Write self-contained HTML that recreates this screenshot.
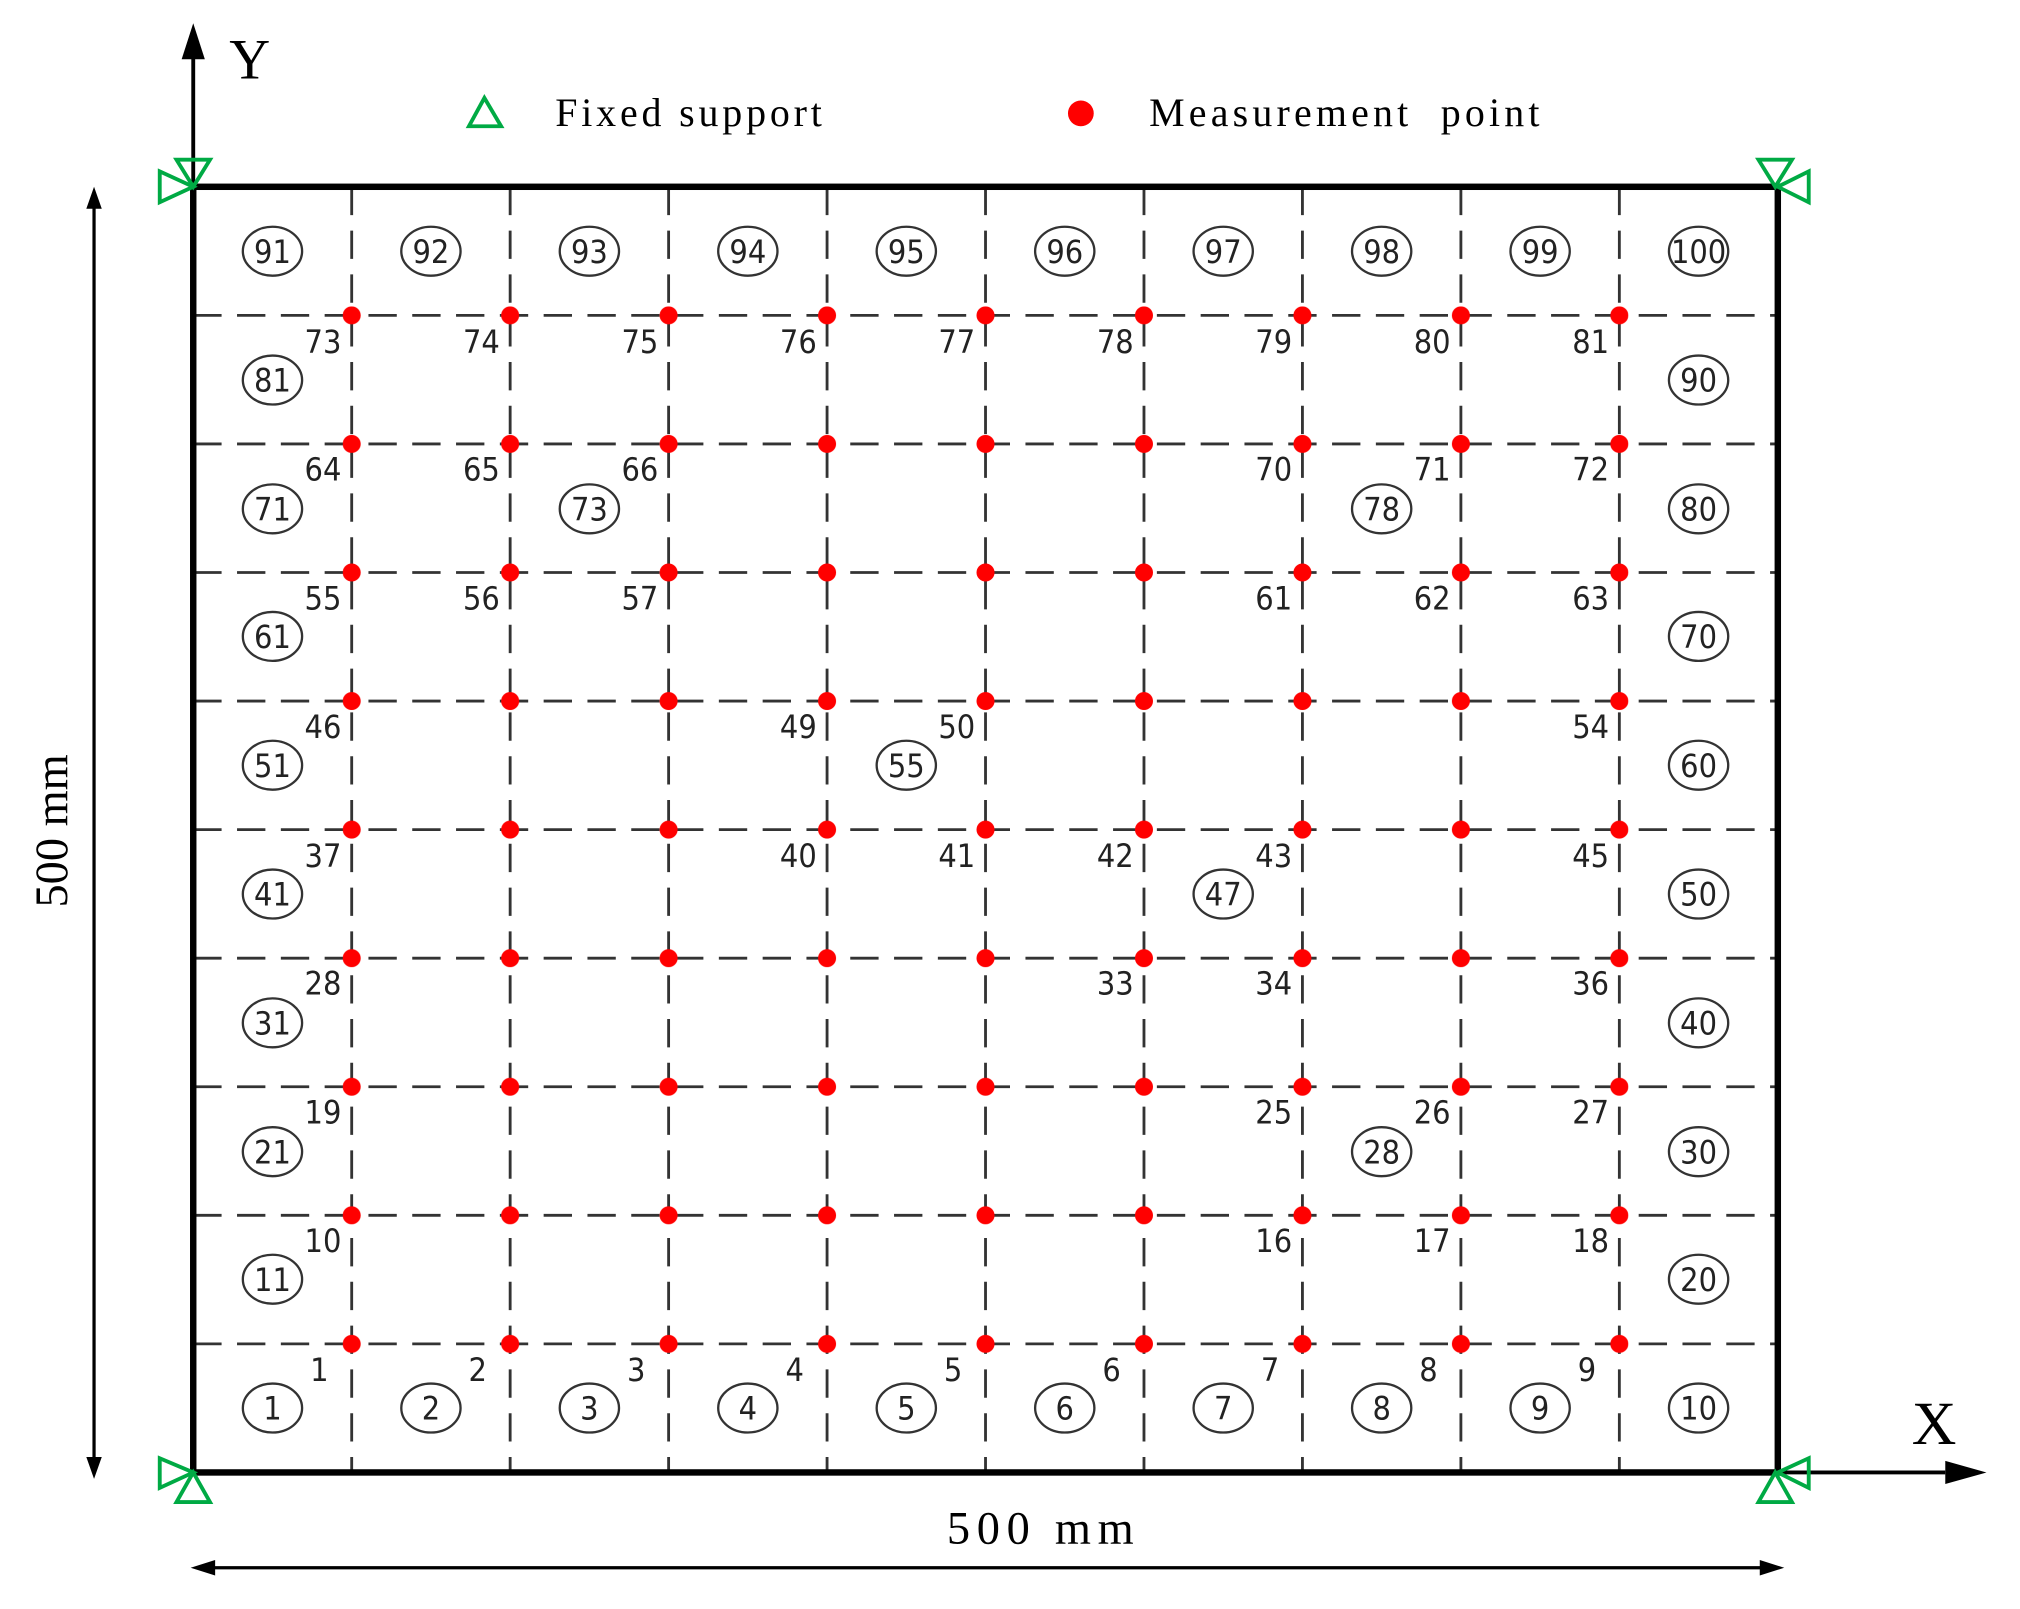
<!DOCTYPE html>
<html><head><meta charset="utf-8"><style>
html,body{margin:0;padding:0;background:#fff;}
svg{display:block;}
.n{font-family:"DejaVu Sans Condensed","Liberation Sans",sans-serif;font-size:25px;fill:#222;}
.c{font-family:"DejaVu Sans Condensed","Liberation Sans",sans-serif;font-size:25px;fill:#222;text-anchor:middle;}
.s{font-family:"Liberation Serif",serif;fill:#000;}
</style></head><body>
<svg width="2020" height="1609" viewBox="0 0 1568 1249" preserveAspectRatio="none" xmlns="http://www.w3.org/2000/svg">
<defs>
<pattern id="dots" patternUnits="userSpaceOnUse" x="273" y="244.8" width="123" height="99.8">
<circle cx="0" cy="0" r="7" fill="#f00"/><circle cx="123" cy="0" r="7" fill="#f00"/>
<circle cx="0" cy="99.8" r="7" fill="#f00"/><circle cx="123" cy="99.8" r="7" fill="#f00"/>
</pattern>
</defs>
<rect width="1568" height="1249" fill="#fff"/>
<g stroke="#333" stroke-width="2.2" stroke-dasharray="22,12" fill="none">
<line x1="273" y1="145" x2="273" y2="1143"/><line x1="396" y1="145" x2="396" y2="1143"/>
<line x1="519" y1="145" x2="519" y2="1143"/><line x1="642" y1="145" x2="642" y2="1143"/>
<line x1="765" y1="145" x2="765" y2="1143"/><line x1="888" y1="145" x2="888" y2="1143"/>
<line x1="1011" y1="145" x2="1011" y2="1143"/><line x1="1134" y1="145" x2="1134" y2="1143"/>
<line x1="1257" y1="145" x2="1257" y2="1143"/>
<line x1="150" y1="244.8" x2="1380" y2="244.8"/><line x1="150" y1="344.6" x2="1380" y2="344.6"/>
<line x1="150" y1="444.4" x2="1380" y2="444.4"/><line x1="150" y1="544.2" x2="1380" y2="544.2"/>
<line x1="150" y1="644" x2="1380" y2="644"/><line x1="150" y1="743.8" x2="1380" y2="743.8"/>
<line x1="150" y1="843.6" x2="1380" y2="843.6"/><line x1="150" y1="943.4" x2="1380" y2="943.4"/>
<line x1="150" y1="1043.2" x2="1380" y2="1043.2"/>
</g>
<rect x="266" y="237.8" width="998" height="812.4" fill="url(#dots)"/>
<rect x="150" y="145" width="1230" height="998" fill="none" stroke="#000" stroke-width="5"/>
<g stroke="#000" stroke-width="3" fill="#000">
<line x1="150" y1="145" x2="150" y2="40"/>
<path d="M150 18 L141 46 L159 46 Z" stroke="none"/>
<line x1="1380" y1="1143" x2="1510" y2="1143"/>
<path d="M1542 1143 L1510 1134 L1510 1152 Z" stroke="none"/>
<line x1="73" y1="160" x2="73" y2="1133" stroke-width="2.5"/>
<path d="M73 145 L67 162 L79 162 Z M73 1148 L67 1131 L79 1131 Z" stroke="none"/>
<line x1="165" y1="1217" x2="1368" y2="1217" stroke-width="2.5"/>
<path d="M148 1217 L167 1211 L167 1223 Z M1385 1217 L1366 1211 L1366 1223 Z" stroke="none"/>
</g>
<text class="s" x="178" y="61" font-size="44">Y</text>
<text class="s" x="1484" y="1121" font-size="48">X</text>
<text class="s" x="735" y="1198" font-size="36" textLength="145" lengthAdjust="spacing">500 mm</text>
<text class="s" x="0" y="0" font-size="36" text-anchor="middle" transform="translate(52,645) rotate(-90)">500 mm</text>
<path d="M376 76 L364 98 L389 98 Z" fill="none" stroke="#0a4" stroke-width="3"/>
<text class="s" x="431" y="98" font-size="31" textLength="207" lengthAdjust="spacing">Fixed support</text>
<circle cx="839" cy="88" r="10" fill="#f00"/>
<text class="s" x="892" y="98" font-size="31" xml:space="preserve" textLength="303" lengthAdjust="spacing">Measurement  point</text>
<g fill="none" stroke="#0a4" stroke-width="3">
<path d="M150 145 L137 124 L163 124 Z"/><path d="M150 145 L124 133 L124 157 Z"/>
<path d="M1378 145 L1365 124 L1391 124 Z"/><path d="M1380 145 L1404 133 L1404 157 Z"/>
<path d="M150 1143 L137 1166 L163 1166 Z"/><path d="M150 1143 L124 1132 L124 1155 Z"/>
<path d="M1378 1143 L1365 1166 L1391 1166 Z"/><path d="M1380 1143 L1404 1132 L1404 1155 Z"/>
</g>
<g fill="none" stroke="#333" stroke-width="1.8">
<ellipse cx="211.5" cy="195" rx="23" ry="19"/><ellipse cx="334.5" cy="195" rx="23" ry="19"/><ellipse cx="457.5" cy="195" rx="23" ry="19"/><ellipse cx="580.5" cy="195" rx="23" ry="19"/><ellipse cx="703.5" cy="195" rx="23" ry="19"/><ellipse cx="826.5" cy="195" rx="23" ry="19"/><ellipse cx="949.5" cy="195" rx="23" ry="19"/><ellipse cx="1072.5" cy="195" rx="23" ry="19"/><ellipse cx="1195.5" cy="195" rx="23" ry="19"/><ellipse cx="1318.5" cy="195" rx="23" ry="19"/>
<ellipse cx="211.5" cy="295" rx="23" ry="19"/><ellipse cx="1318.5" cy="295" rx="23" ry="19"/>
<ellipse cx="211.5" cy="395" rx="23" ry="19"/><ellipse cx="457.5" cy="395" rx="23" ry="19"/><ellipse cx="1072.5" cy="395" rx="23" ry="19"/><ellipse cx="1318.5" cy="395" rx="23" ry="19"/>
<ellipse cx="211.5" cy="494" rx="23" ry="19"/><ellipse cx="1318.5" cy="494" rx="23" ry="19"/>
<ellipse cx="211.5" cy="594" rx="23" ry="19"/><ellipse cx="703.5" cy="594" rx="23" ry="19"/><ellipse cx="1318.5" cy="594" rx="23" ry="19"/>
<ellipse cx="211.5" cy="694" rx="23" ry="19"/><ellipse cx="949.5" cy="694" rx="23" ry="19"/><ellipse cx="1318.5" cy="694" rx="23" ry="19"/>
<ellipse cx="211.5" cy="794" rx="23" ry="19"/><ellipse cx="1318.5" cy="794" rx="23" ry="19"/>
<ellipse cx="211.5" cy="894" rx="23" ry="19"/><ellipse cx="1072.5" cy="894" rx="23" ry="19"/><ellipse cx="1318.5" cy="894" rx="23" ry="19"/>
<ellipse cx="211.5" cy="993" rx="23" ry="19"/><ellipse cx="1318.5" cy="993" rx="23" ry="19"/>
<ellipse cx="211.5" cy="1093" rx="23" ry="19"/><ellipse cx="334.5" cy="1093" rx="23" ry="19"/><ellipse cx="457.5" cy="1093" rx="23" ry="19"/><ellipse cx="580.5" cy="1093" rx="23" ry="19"/><ellipse cx="703.5" cy="1093" rx="23" ry="19"/><ellipse cx="826.5" cy="1093" rx="23" ry="19"/><ellipse cx="949.5" cy="1093" rx="23" ry="19"/><ellipse cx="1072.5" cy="1093" rx="23" ry="19"/><ellipse cx="1195.5" cy="1093" rx="23" ry="19"/><ellipse cx="1318.5" cy="1093" rx="23" ry="19"/>
</g>
<g class="c">
<text class="c" x="211.5" y="204">91</text><text class="c" x="334.5" y="204">92</text><text class="c" x="457.5" y="204">93</text><text class="c" x="580.5" y="204">94</text><text class="c" x="703.5" y="204">95</text><text class="c" x="826.5" y="204">96</text><text class="c" x="949.5" y="204">97</text><text class="c" x="1072.5" y="204">98</text><text class="c" x="1195.5" y="204">99</text><text class="c" x="1318.5" y="204">100</text>
<text class="c" x="211.5" y="304">81</text><text class="c" x="1318.5" y="304">90</text>
<text class="c" x="211.5" y="404">71</text><text class="c" x="457.5" y="404">73</text><text class="c" x="1072.5" y="404">78</text><text class="c" x="1318.5" y="404">80</text>
<text class="c" x="211.5" y="503">61</text><text class="c" x="1318.5" y="503">70</text>
<text class="c" x="211.5" y="603">51</text><text class="c" x="703.5" y="603">55</text><text class="c" x="1318.5" y="603">60</text>
<text class="c" x="211.5" y="703">41</text><text class="c" x="949.5" y="703">47</text><text class="c" x="1318.5" y="703">50</text>
<text class="c" x="211.5" y="803">31</text><text class="c" x="1318.5" y="803">40</text>
<text class="c" x="211.5" y="903">21</text><text class="c" x="1072.5" y="903">28</text><text class="c" x="1318.5" y="903">30</text>
<text class="c" x="211.5" y="1002">11</text><text class="c" x="1318.5" y="1002">20</text>
<text class="c" x="211.5" y="1102">1</text><text class="c" x="334.5" y="1102">2</text><text class="c" x="457.5" y="1102">3</text><text class="c" x="580.5" y="1102">4</text><text class="c" x="703.5" y="1102">5</text><text class="c" x="826.5" y="1102">6</text><text class="c" x="949.5" y="1102">7</text><text class="c" x="1072.5" y="1102">8</text><text class="c" x="1195.5" y="1102">9</text><text class="c" x="1318.5" y="1102">10</text>
</g>
<g class="n" text-anchor="end">
<text x="265" y="274">73</text><text x="388" y="274">74</text><text x="511" y="274">75</text><text x="634" y="274">76</text><text x="757" y="274">77</text><text x="880" y="274">78</text><text x="1003" y="274">79</text><text x="1126" y="274">80</text><text x="1249" y="274">81</text>
<text x="265" y="373">64</text><text x="388" y="373">65</text><text x="511" y="373">66</text><text x="1003" y="373">70</text><text x="1126" y="373">71</text><text x="1249" y="373">72</text>
<text x="265" y="473">55</text><text x="388" y="473">56</text><text x="511" y="473">57</text><text x="1003" y="473">61</text><text x="1126" y="473">62</text><text x="1249" y="473">63</text>
<text x="265" y="573">46</text><text x="634" y="573">49</text><text x="757" y="573">50</text><text x="1249" y="573">54</text>
<text x="265" y="673">37</text><text x="634" y="673">40</text><text x="757" y="673">41</text><text x="880" y="673">42</text><text x="1003" y="673">43</text><text x="1249" y="673">45</text>
<text x="265" y="772">28</text><text x="880" y="772">33</text><text x="1003" y="772">34</text><text x="1249" y="772">36</text>
<text x="265" y="872">19</text><text x="1003" y="872">25</text><text x="1126" y="872">26</text><text x="1249" y="872">27</text>
<text x="265" y="972">10</text><text x="1003" y="972">16</text><text x="1126" y="972">17</text><text x="1249" y="972">18</text>
<text x="255" y="1072">1</text><text x="378" y="1072">2</text><text x="501" y="1072">3</text><text x="624" y="1072">4</text><text x="747" y="1072">5</text><text x="870" y="1072">6</text><text x="993" y="1072">7</text><text x="1116" y="1072">8</text><text x="1239" y="1072">9</text>
</g>
</svg>
</body></html>
